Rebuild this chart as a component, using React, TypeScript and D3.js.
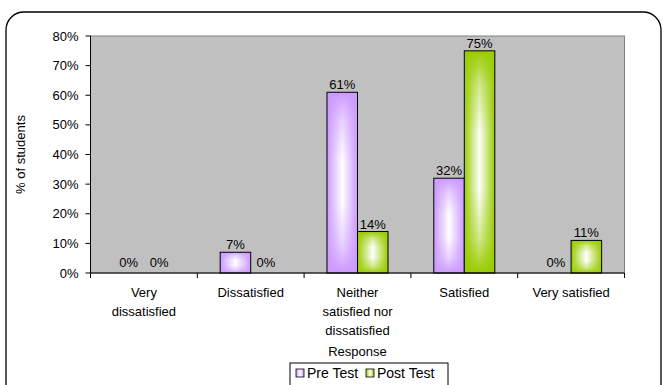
import React from 'react';
import * as d3 from 'd3';

const categories = [
  ['Very', 'dissatisfied'],
  ['Dissatisfied'],
  ['Neither', 'satisfied nor', 'dissatisfied'],
  ['Satisfied'],
  ['Very satisfied'],
];
const series = ['Pre Test', 'Post Test'];
const preTest = [0, 7, 61, 32, 0];
const postTest = [0, 0, 14, 75, 11];
const yTicks = [0, 10, 20, 30, 40, 50, 60, 70, 80];

const colors = ['#cc99ff', '#99cc00'];
const font = '"Liberation Sans", Arial, sans-serif';

const App = () => {
  const width = 663;
  const height = 385;
  const plot = { left: 90.5, right: 624.5, top: 36, bottom: 273 };

  const keys = categories.map((c) => c.join(' '));
  const x = d3.scaleBand<string>().domain(keys).range([plot.left, plot.right]);
  const xs = d3.scaleBand<string>().domain(series).range([0, x.bandwidth()]).paddingOuter(0.75);
  const y = d3.scaleLinear().domain([0, 80]).range([plot.bottom, plot.top]);

  const values = [preTest, postTest];
  const bars = keys.flatMap((k, i) =>
    series.map((s, j) => ({ key: k, s, j, v: values[j][i] }))
  );

  const boundaries = [...keys.map((k) => x(k)!), plot.right];

  return (
    <svg width={width} height={height} style={{ display: 'block', position: 'absolute', left: 0, top: 0 }}>
      <defs>
        {colors.map((c, j) => (
          <React.Fragment key={j}>
            <linearGradient id={`h${j}`} x1="0" x2="1" y1="0" y2="0">
              <stop offset="0" stopColor={c} />
              <stop offset="0.5" stopColor="#ffffff" />
              <stop offset="1" stopColor={c} />
            </linearGradient>
            <linearGradient id={`v${j}`} x1="0" x2="0" y1="0" y2="1">
              <stop offset="0" stopColor={c} stopOpacity={1} />
              <stop offset="0.15" stopColor={c} stopOpacity={0.45} />
              <stop offset="0.38" stopColor={c} stopOpacity={0} />
              <stop offset="0.62" stopColor={c} stopOpacity={0} />
              <stop offset="0.85" stopColor={c} stopOpacity={0.45} />
              <stop offset="1" stopColor={c} stopOpacity={1} />
            </linearGradient>
          </React.Fragment>
        ))}
      </defs>

      <rect x={6} y={12} width={655} height={400} rx={18} fill="#fff" stroke="#000" strokeWidth={1.3} />

      {/* plot area */}
      <rect x={plot.left} y={plot.top} width={plot.right - plot.left} height={plot.bottom - plot.top}
        fill="#c0c0c0" stroke="#808080" strokeWidth={1} />

      {bars.map((b, i) => {
        const bx = x(b.key)! + xs(b.s)!;
        const by = y(b.v);
        const bh = plot.bottom - by;
        return (
          <g key={i}>
            {bh > 0 && (
              <>
                <rect x={bx} y={by} width={xs.bandwidth()} height={bh} fill={`url(#h${b.j})`} />
                <rect x={bx} y={by} width={xs.bandwidth()} height={bh} fill={`url(#v${b.j})`}
                  stroke="#000" strokeWidth={1} />
              </>
            )}
            <text x={bx + xs.bandwidth() / 2} y={Math.min(by - 3, plot.bottom - 6)} textAnchor="middle"
              fontFamily={font} fontSize={13} fill="#000">{b.v}%</text>
          </g>
        );
      })}

      {/* axes */}
      <line x1={plot.left} x2={plot.left} y1={plot.top} y2={plot.bottom} stroke="#000" />
      <line x1={plot.left} x2={plot.right} y1={plot.bottom} y2={plot.bottom} stroke="#000" />
      {yTicks.map((t) => (
        <g key={t}>
          <line x1={plot.left - 5} x2={plot.left} y1={y(t)} y2={y(t)} stroke="#000" />
          <text x={plot.left - 12} y={y(t)} dy="0.35em" textAnchor="end" fontFamily={font} fontSize={13}>{t}%</text>
        </g>
      ))}
      {boundaries.map((bx, i) => (
        <line key={i} x1={bx} x2={bx} y1={plot.bottom} y2={plot.bottom + 5} stroke="#000" />
      ))}
      {categories.map((lines, i) => (
        <text key={i} x={x(keys[i])! + x.bandwidth() / 2} y={297} textAnchor="middle" fontFamily={font} fontSize={13}>
          {lines.map((l, k) => (
            <tspan key={k} x={x(keys[i])! + x.bandwidth() / 2} dy={k === 0 ? 0 : 19}>{l}</tspan>
          ))}
        </text>
      ))}

      <text x={357.5} y={356} textAnchor="middle" fontFamily={font} fontSize={13}>Response</text>
      <text transform={`translate(25,${(plot.top + plot.bottom) / 2}) rotate(-90)`} textAnchor="middle"
        fontFamily={font} fontSize={13}>% of students</text>

      {/* legend */}
      <g>
        <rect x={290} y={363} width={158} height={30} fill="#fff" stroke="#000" strokeWidth={1} />
        {series.map((s, j) => {
          const lx = j === 0 ? 296 : 366;
          return (
            <g key={s}>
              <rect x={lx} y={369} width={8} height={8} fill={`url(#h${j})`} stroke="#000" strokeWidth={0.8} />
              <text x={lx + 11} y={378} fontFamily={font} fontSize={14}>{s}</text>
            </g>
          );
        })}
      </g>
    </svg>
  );
};

export default App;
